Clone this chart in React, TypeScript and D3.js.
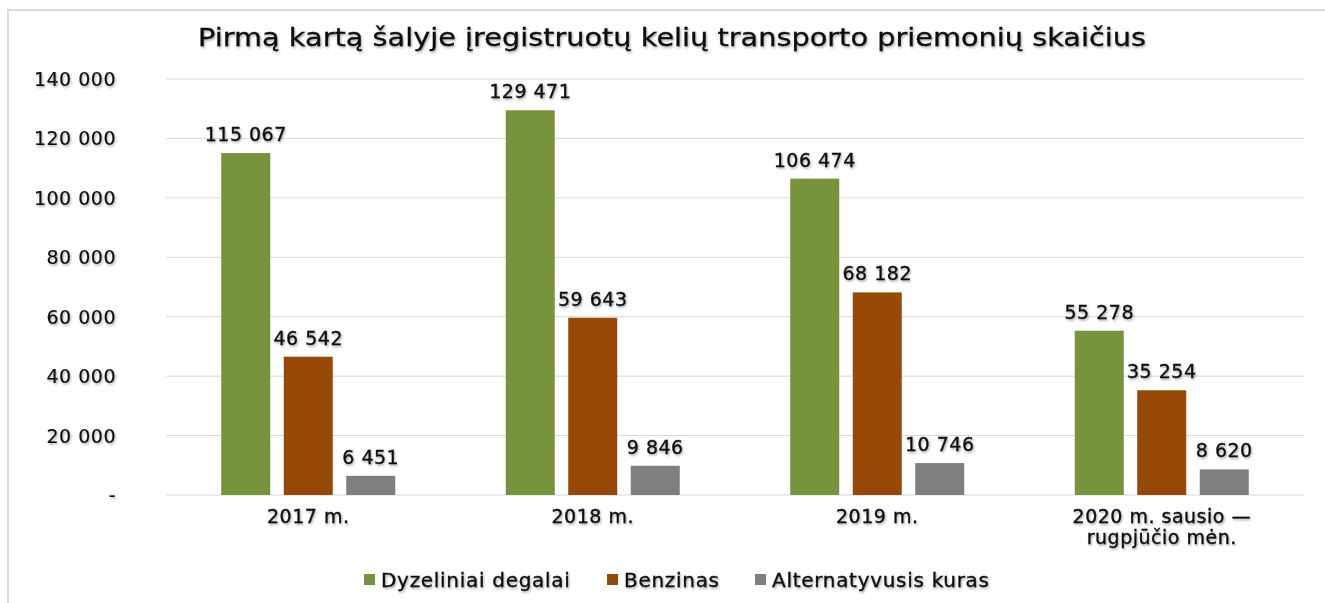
import React from "react";
import { scaleBand, scaleLinear } from "d3";

const categories = ["2017 m.", "2018 m.", "2019 m.", "2020 m. sausio —\nrugpjūčio mėn."];
const seriesNames = ["Dyzeliniai degalai", "Benzinas", "Alternatyvusis kuras"];
const dyzelinas = [115067, 129471, 106474, 55278];
const benzinas = [46542, 59643, 68182, 35254];
const alternatyvus = [6451, 9846, 10746, 8620];
const yTicks = [0, 20000, 40000, 60000, 80000, 100000, 120000, 140000];
const colors = ["#77933c", "#984807", "#7f7f7f"];

const W = 1325;
const H = 603;
const fmt = (v: number) => (v === 0 ? "-" : String(v).replace(/\B(?=(\d{3})+(?!\d))/g, " "));
const FONT = "'DejaVu Sans', Verdana, sans-serif";

// shared text look: dark fill, thin stroke to thicken, soft shadow
const txt = {
  fill: "#111",
  stroke: "#111",
  strokeWidth: 0.35,
  filter: "url(#sh)",
};

export default function App() {
  const values = [dyzelinas, benzinas, alternatyvus];
  const x0 = scaleBand().domain(categories).range([166, 1304]);
  const x1 = scaleBand()
    .domain(seriesNames)
    .range([0, x0.bandwidth()])
    .paddingInner(0.216)
    .paddingOuter(0.884);
  const y = scaleLinear().domain([0, 140000]).range([495, 79]);

  const legendX = [364, 607, 755];

  return (
    <svg
      width={W}
      height={H}
      style={{ position: "absolute", left: 0, top: 0, background: "#fff" }}
      fontFamily={FONT}
    >
      <defs>
        <filter id="sh" x="-10%" y="-30%" width="120%" height="160%">
          <feDropShadow dx="1" dy="1.5" stdDeviation="0.8" floodColor="#000" floodOpacity="0.35" />
        </filter>
      </defs>
      <rect x={0} y={0} width={W} height={H} fill="#fff" />
      {/* frame */}
      <line x1={8} x2={W} y1={10} y2={10} stroke="#d9d9d9" strokeWidth={2} />
      <line x1={8} x2={8} y1={9} y2={H} stroke="#d9d9d9" strokeWidth={2} />

      <text
        x={672}
        y={46}
        textAnchor="middle"
        fontSize={25}
        {...txt}
        strokeWidth={0.3}
        textLength={948}
        lengthAdjust="spacingAndGlyphs"
      >
        Pirmą kartą šalyje įregistruotų kelių transporto priemonių skaičius
      </text>

      {/* grid + y ticks */}
      {yTicks.map((t) => (
        <g key={t}>
          <line x1={166} x2={1304} y1={y(t)} y2={y(t)} stroke="#d9d9d9" strokeWidth={1} />
          <text x={116} y={y(t) + 7} textAnchor="end" fontSize={19} letterSpacing={0.5} {...txt} strokeWidth={0.15}>
            {fmt(t)}
          </text>
        </g>
      ))}

      {/* bars */}
      {categories.map((c, ci) => (
        <g key={c} transform={`translate(${x0(c)},0)`}>
          {seriesNames.map((s, si) => {
            const v = values[si][ci];
            const bx = x1(s) as number;
            return (
              <g key={s}>
                <rect
                  x={bx}
                  y={y(v)}
                  width={x1.bandwidth()}
                  height={y(0) - y(v)}
                  fill={colors[si]}
                />
                <text
                  x={bx + x1.bandwidth() / 2}
                  y={y(v) - 12}
                  textAnchor="middle"
                  fontSize={19}
                  letterSpacing={0.5}
                  {...txt}
                >
                  {fmt(v)}
                </text>
              </g>
            );
          })}
          {c.split("\n").map((line, li) => (
            <text
              key={li}
              x={x0.bandwidth() / 2}
              y={523 + li * 21}
              textAnchor="middle"
              fontSize={19}
              letterSpacing={0.5}
              {...txt}
            >
              {line}
            </text>
          ))}
        </g>
      ))}

      {/* legend */}
      {seriesNames.map((s, si) => (
        <g key={s}>
          <rect x={legendX[si]} y={574} width={11} height={11} fill={colors[si]} />
          <text x={legendX[si] + 17} y={587} fontSize={20} letterSpacing={0.7} {...txt}>
            {s}
          </text>
        </g>
      ))}
    </svg>
  );
}
